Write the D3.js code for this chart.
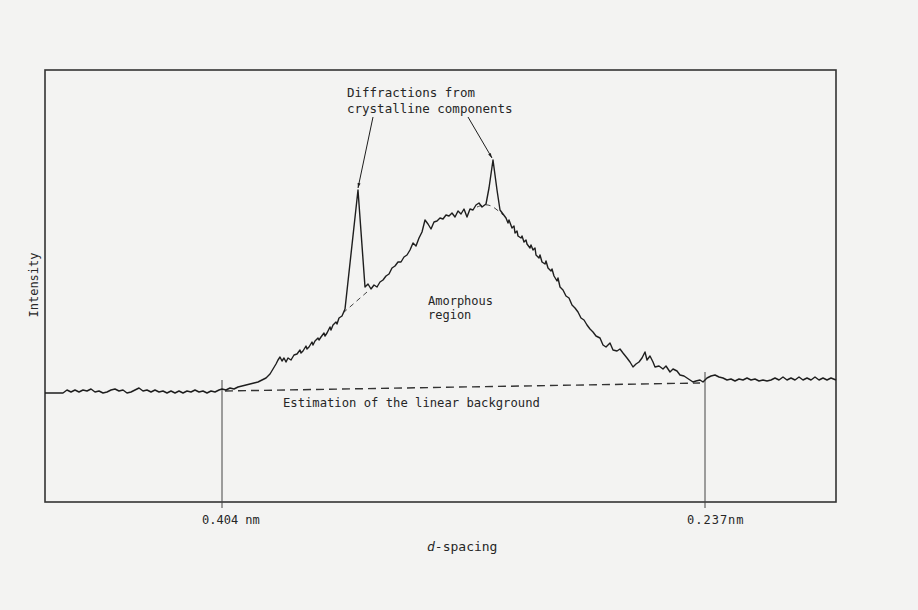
<!DOCTYPE html>
<html>
<head>
<meta charset="utf-8">
<script src="https://cdn.jsdelivr.net/npm/d3@7"></script>
<style>
  body { margin: 0; background: #f3f3f2; }
  text { font-family: "DejaVu Sans Mono", monospace; fill: #262626; }
</style>
</head>
<body>
<div id="my_dataviz"></div>
<script>
const trace = [
  [0,109],[18,109],[22,112],[26,110],[30,112],[34,110],[38,112],[42,111],[46,113],[50,110],
  [54,111],[58,109],[62,110],[66,112],[70,113],[74,111],[78,112],[82,109],[86,110],[90,112],
  [94,114],[98,111],[102,112],[106,110],[110,112],[114,110],[118,111],[122,109],[126,111],[130,109],
  [134,111],[138,109],[142,111],[146,110],[150,112],[154,110],[158,111],[162,109],[166,111],[170,110],
  [174,112],[177,113],[181,112],[185,114],[189,113],[193,115],[197,116],[201,117],[205,118],[209,119],
  [213,120],[217,122],[221,124],[225,128],[228,133],[231,138],[233,142],[235,145],[237,141],[239,144],
  [241,140],[243,144],[246,142],[249,147],[252,148],[255,152],[256,149],[258,151],[261,156],[262,153],
  [264,155],[267,160],[268,157],[270,161],[273,164],[274,162],[276,165],[279,169],[280,166],[282,169],
  [285,175],[286,172],[288,177],[291,180],[292,178],[294,184],[297,186],
  [300,193],[313,312],[320,215],[323,218],[326,213],[329,217],[332,215],[335,220],[338,222],[341,226],
  [344,228],[347,234],[350,236],[353,240],[356,240],[359,245],[362,247],[365,252],[368,259],[371,256],
  [374,264],[377,270],[380,282],[383,278],[386,273],[389,280],[392,281],[395,284],[398,283],[401,287],
  [404,286],[407,289],[410,285],[413,291],[416,288],[419,293],[422,285],[425,293],[428,292],[431,297],
  [434,299],[437,295],[441,298],[444,314],[448,342],[452,312],[455,292],[458,288],[461,284],[463,279],
  [464,282],[467,274],[469,276],[470,269],[472,271],[473,266],[476,264],[477,266],[479,260],[481,262],
  [482,258],[485,254],[486,257],[488,252],[490,254],[491,247],[494,244],[495,247],[497,240],[500,238],
  [501,241],[503,234],[506,231],[507,233],[509,226],[512,221],[513,224],[515,215],[518,212],[521,206],
  [524,204],[527,197],[530,194],[533,190],[536,184],[539,182],[542,177],[545,173],[548,170],[551,166],
  [555,164],[558,157],[561,155],[565,159],[568,152],[572,151],[575,153],[578,149],[582,144],[585,140],
  [588,135],[591,138],[594,140],[597,144],[600,150],[602,142],[605,146],[608,140],[610,135],[614,136],
  [618,133],[621,136],[625,130],[628,133],[632,131],[635,127],[639,126],[642,124],[645,122],[648,120],
  [651,121],[655,122],[658,120],[660,122],[662,124],[666,126],[670,127],[674,125],[678,124],[682,122],
  [686,123],[690,121],[694,123],[698,122],[702,124],[706,122],[710,123],[714,121],[718,122],[722,121],
  [726,122],[730,124],[734,122],[738,125],[742,122],[746,124],[750,122],[754,125],[758,122],[762,124],
  [766,122],[770,125],[774,122],[778,124],[782,122],[786,124],[791,122]
];

// dashed amorphous estimate under the two crystalline peaks
const amorphUnder1 = [[298,189],[322,210]];
const amorphUnder2 = [[432,295],[440,298],[448,296],[458,287]];

// linear background estimate
const background = [[180,111],[655,119]];

// d-spacing markers
const markerChannel = [177, 660];
const markerTop = [122, 130];
const markerLabels = ["0.404 nm", "0.237nm"];

// leader lines of the annotation: [from, to]
const leaders = [
  [[328,385],[313,314]],
  [[423,385],[447,344]]
];

const width = 918;
const height = 610;
const margin = {left: 45, right: 82, top: 70, bottom: 108};

const svg = d3.select("#my_dataviz")
  .append("svg")
    .attr("width", width)
    .attr("height", height);

const x = d3.scaleLinear()
  .domain([0, 791])
  .range([margin.left, width - margin.right]);

const y = d3.scaleLinear()
  .domain([0, 432])
  .range([height - margin.bottom, margin.top]);

const ink = "#1e1e1e";
const line = d3.line().x(d => x(d[0])).y(d => y(d[1]));

// frame
svg.append("rect")
  .attr("x", x(0))
  .attr("y", y(432))
  .attr("width", x(791) - x(0))
  .attr("height", y(0) - y(432))
  .attr("fill", "none")
  .attr("stroke", "#333")
  .attr("stroke-width", 1.6);

// marker lines, from the trace down past the frame
svg.append("g")
  .selectAll("line")
  .data(markerChannel)
  .join("line")
    .attr("x1", d => x(d))
    .attr("x2", d => x(d))
    .attr("y1", (d, i) => y(markerTop[i]))
    .attr("y2", y(0) + 6)
    .attr("stroke", "#444")
    .attr("stroke-width", 1);

svg.append("g")
  .selectAll("text")
  .data(markerLabels)
  .join("text")
    .attr("x", (d, i) => x(markerChannel[i]) + (i == 0 ? -20 : -18))
    .attr("y", y(0) + 22)
    .style("font-size", "12px")
    .style("letter-spacing", (d, i) => i == 0 ? "0px" : "1px")
    .text(d => d);

// background and amorphous dashes
svg.append("path")
  .datum(background)
  .attr("d", line)
  .attr("fill", "none")
  .attr("stroke", "#333")
  .attr("stroke-width", 1.4)
  .attr("stroke-dasharray", "8,5");

[amorphUnder1, amorphUnder2].forEach(seg => {
  svg.append("path")
    .datum(seg)
    .attr("d", d3.line().curve(d3.curveBasis).x(d => x(d[0])).y(d => y(d[1])))
    .attr("fill", "none")
    .attr("stroke", "#444")
    .attr("stroke-width", 1)
    .attr("stroke-dasharray", "5,4");
});

// the trace itself
svg.append("path")
  .datum(trace)
  .attr("d", line)
  .attr("fill", "none")
  .attr("stroke", ink)
  .attr("stroke-width", 1.4)
  .attr("stroke-linejoin", "round");

// arrowhead for leaders
svg.append("defs").append("marker")
  .attr("id", "arrow")
  .attr("viewBox", "0 0 10 10")
  .attr("refX", 10)
  .attr("refY", 5)
  .attr("markerWidth", 5)
  .attr("markerHeight", 5)
  .attr("orient", "auto")
  .append("path")
    .attr("d", "M0,2 L10,5 L0,8 z")
    .attr("fill", ink);

svg.append("g")
  .selectAll("line")
  .data(leaders)
  .join("line")
    .attr("x1", d => x(d[0][0]))
    .attr("y1", d => y(d[0][1]))
    .attr("x2", d => x(d[1][0]))
    .attr("y2", d => y(d[1][1]))
    .attr("stroke", ink)
    .attr("stroke-width", 1)
    .attr("marker-end", "url(#arrow)");

// annotations
const note = (tx, ty, s, size) => svg.append("text")
  .attr("x", tx).attr("y", ty)
  .style("font-size", size + "px")
  .text(s);

note(347, 97, "Diffractions from", 12.5);
note(347, 113, "crystalline components", 12.5);
note(428, 305, "Amorphous", 12);
note(428, 319, "region", 12);
note(283, 407, "Estimation of the linear background", 12.2);

// axis titles
svg.append("text")
  .attr("transform", "translate(38,285) rotate(-90)")
  .attr("text-anchor", "middle")
  .style("font-size", "12px")
  .text("Intensity");

const xt = svg.append("text")
  .attr("x", 427)
  .attr("y", 551)
  .style("font-size", "13px");
xt.append("tspan").style("font-style", "italic").text("d");
xt.append("tspan").text("-spacing");
</script>
</body>
</html>
